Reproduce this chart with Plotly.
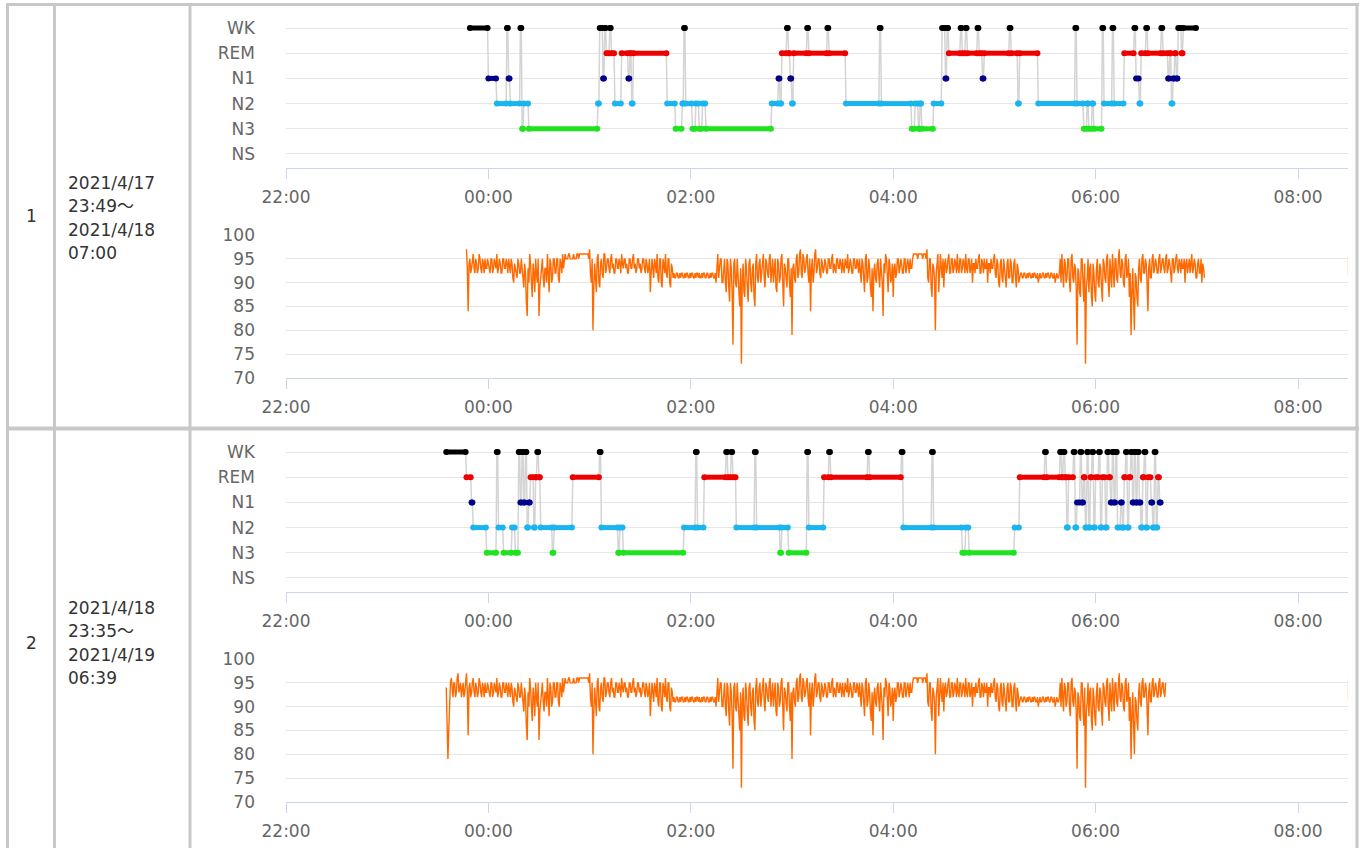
import plotly.graph_objects as go

# ---------------- data ----------------
STAGES = ["NS", "N3", "N2", "N1", "REM", "WK"]
X_TICK_VALS = [-2, 0, 2, 4, 6, 8]
X_TICK_TEXT = ["22:00", "00:00", "02:00", "04:00", "06:00", "08:00"]
SPO2_TICKS = [70, 75, 80, 85, 90, 95, 100]

ROW_LABELS = ["1", "2"]
ROW_DATES = [["2021/4/17", "23:49～", "2021/4/18", "07:00"],
             ["2021/4/18", "23:35～", "2021/4/19", "06:39"]]

# hypnogram night 1: stage change times (minutes from midnight) and stages
n1_times = [-11, 0, 5, 11, 12, 13, 19, 20, 21, 24, 65, 66, 68, 69, 70, 72, 73, 75, 79, 83,
            84, 85, 86, 106, 111, 115, 116, 117, 121, 123, 125, 127, 129, 168, 172, 173, 174, 177, 178, 179,
            180, 181, 189, 190, 201, 202, 212, 232, 233, 251, 253, 255, 256, 257, 264, 269, 271, 272, 273, 280,
            281, 283, 284, 290, 291, 293, 294, 309, 310, 314, 315, 326, 348, 349, 353, 355, 356, 358, 359, 364,
            365, 370, 371, 377, 383, 384, 386, 387, 390, 391, 399, 400, 403, 404, 405, 406, 407, 408, 409, 411,
            412]
n1_stages = ["WK", "N1", "N2", "WK", "N1", "N2", "WK", "N3", "N2", "N3", "N2", "WK", "N1", "WK", "REM", "WK", "REM", "N2", "REM", "N1",
             "REM", "N2", "REM", "N2", "N3", "N2", "WK", "N2", "N3", "N2", "N3", "N2", "N3", "N2", "N1", "N2", "REM", "WK", "REM", "N1",
             "N2", "REM", "WK", "REM", "WK", "REM", "N2", "WK", "N2", "N3", "N2", "N3", "N2", "N3", "N2", "WK", "N1", "WK", "REM", "WK",
             "REM", "WK", "REM", "WK", "REM", "N1", "REM", "WK", "REM", "N2", "REM", "N2", "WK", "N2", "N3", "N2", "N3", "N2", "N3", "WK",
             "N2", "WK", "N2", "REM", "WK", "N1", "N2", "REM", "WK", "REM", "WK", "REM", "N1", "REM", "N2", "N1", "REM", "N1", "WK", "REM",
             "WK"]
n1_end = 420

# hypnogram night 2
n2_times = [-25, -13, -10, -9, -1, 5, 6, 9, 14, 16, 18, 19, 20, 21, 22, 23, 24, 25, 27, 28,
            29, 30, 31, 38, 39, 50, 66, 67, 77, 78, 80, 116, 123, 124, 128, 141, 142, 144, 145, 147,
            158, 159, 173, 174, 178, 189, 190, 199, 202, 203, 225, 226, 245, 246, 263, 264, 281, 283, 285, 312,
            315, 330, 331, 339, 340, 341, 342, 343, 344, 347, 348, 349, 351, 352, 353, 354, 355, 356, 357, 358,
            359, 360, 362, 363, 364, 366, 367, 368, 369, 370, 371, 372, 373, 375, 376, 377, 378, 379, 380, 381,
            382, 383, 384, 385, 386, 387, 388, 389, 390, 391, 393, 394, 395, 396, 397, 398]
n2_stages = ["WK", "REM", "N1", "N2", "N3", "WK", "N2", "N3", "N2", "N3", "WK", "N1", "WK", "N1", "WK", "N2", "N1", "REM", "N2", "REM",
             "WK", "REM", "N2", "N3", "N2", "REM", "WK", "N2", "N3", "N2", "N3", "N2", "WK", "N2", "REM", "WK", "REM", "WK", "REM", "N2",
             "WK", "N2", "N3", "N2", "N3", "WK", "N2", "REM", "WK", "REM", "WK", "REM", "WK", "N2", "WK", "N2", "N3", "N2", "N3", "N2",
             "REM", "WK", "REM", "WK", "REM", "WK", "REM", "N2", "REM", "WK", "N2", "N1", "WK", "N1", "REM", "N2", "WK", "N2", "REM", "WK",
             "N2", "REM", "WK", "N2", "REM", "N2", "WK", "REM", "N1", "WK", "N1", "WK", "N2", "N1", "N2", "REM", "WK", "N2", "REM", "WK",
             "N1", "WK", "N1", "WK", "N1", "N2", "REM", "WK", "N2", "REM", "N1", "N2", "WK", "N2", "REM", "N1"]
n2_end = 399

# SpO2 night 1: readings on each full minute from 23:47 (t = -13 min) ...
spo2_n1_start = -13
spo2_n1 = [
    97, 84, 95, 93, 96, 92, 94, 93, 95, 92, 94, 95, 93,
    94, 92, 95, 93, 94, 96, 93, 94, 92, 95, 93, 94, 95, 92, 94, 90, 93, 91, 94, 92,
    93, 89, 92, 83, 90, 94, 87, 92, 95, 90, 83, 91, 95, 89, 93, 96, 88, 94, 91, 95,
    92, 95, 90, 94, 96, 95, 95, 95, 96, 95, 95, 95, 95, 96, 96, 96, 96, 96, 96, 96,
    97, 90, 80, 94, 88, 96, 89, 95, 91, 96, 93, 95, 92, 96, 94, 92, 95, 93, 94, 96,
    93, 95, 94, 92, 95, 93, 96, 94, 93, 95, 94, 93, 95, 92, 94, 93, 88, 95, 91, 94,
    96, 90, 95, 89, 94, 96, 91, 95, 89, 93, 92, 91, 92, 91, 91, 92, 91, 91, 92, 91,
    91, 92, 91, 91, 92, 92, 91, 91, 92, 91, 92, 91, 91, 92, 91, 90, 96, 93, 95, 90,
    95, 88, 94, 86, 93, 77, 95, 89, 92, 85, 73, 94, 87, 93, 86, 95, 88, 94, 85, 96,
    90, 95, 92, 96, 89, 94, 91, 96, 93, 90, 95, 88, 94, 91, 96, 85, 93, 89, 95, 87,
    79, 94, 90, 96, 92, 97, 91, 95, 93, 96, 90, 84, 95, 92, 97, 93, 95, 91, 94, 93,
    94, 92, 95, 93, 96, 94, 92, 95, 93, 94, 95, 92, 94, 96, 93, 94, 92, 95, 93, 94,
    95, 90, 94, 88, 96, 91, 93, 87, 84, 94, 90, 95, 89, 93, 83, 92, 95, 88, 94, 91,
    87, 94, 92, 95, 93, 94, 92, 95, 93, 94, 95, 93, 96, 96, 96, 96, 96, 96, 96, 96,
    97, 90, 95, 87, 93, 80, 94, 88, 96, 91, 89, 95, 93, 96, 92, 95, 93, 94, 96, 92,
    95, 93, 94, 96, 92, 95, 93, 90, 94, 95, 93, 96, 92, 94, 95, 93, 90, 94, 95, 93,
    96, 91, 94, 89, 95, 90, 93, 89, 95, 91, 94, 90, 95, 89, 93, 91, 92, 91, 92, 91,
    91, 92, 91, 91, 92, 91, 90, 92, 91, 92, 91, 91, 92, 91, 92, 91, 90, 92, 91, 95,
    96, 89, 94, 91, 95, 88, 96, 90, 93, 77, 92, 87, 95, 86, 73, 91, 88, 94, 85, 92,
    86, 95, 89, 93, 86, 94, 90, 96, 87, 92, 96, 89, 95, 90, 97, 91, 94, 89, 96, 92,
    87, 79, 93, 80, 91, 85, 95, 90, 96, 92, 94, 84, 95, 91, 96, 93, 94, 92, 96, 93,
    95, 92, 96, 93, 94, 90, 95, 93, 96, 92, 94, 95, 93, 90, 95, 94, 92, 96, 93, 94, 91, 95, 92, 90, 93,
]
# ... and on each half minute (t + 0.5)
spo2_n1_half = [
    93, 94, 92, 95, 93, 95, 92, 96, 93, 95, 92, 93, 95,
    93, 95, 92, 95, 93, 92, 95, 92, 95, 93, 95, 92, 93, 95, 91, 94, 92, 95, 92, 95,
    91, 94, 86, 93, 96, 90, 94, 88, 92, 95, 89, 94, 91, 93, 90, 92, 95, 90, 95, 92,
    95, 91, 95, 92, 93, 96, 95, 96, 95, 95, 96, 95, 96, 95, 96, 96, 96, 96, 96, 95,
    92, 95, 89, 91, 95, 90, 94, 92, 96, 92, 95, 93, 95, 93, 92, 95, 93, 95, 92, 94,
    95, 93, 92, 95, 93, 95, 93, 92, 95, 93, 92, 95, 93, 95, 92, 95, 92, 93, 95, 92,
    91, 95, 90, 95, 92, 92, 95, 90, 94, 91, 91, 92, 91, 92, 92, 91, 92, 92, 91, 92,
    92, 91, 92, 92, 91, 91, 92, 92, 91, 92, 91, 92, 92, 91, 92, 93, 91, 95, 90, 94,
    90, 95, 89, 95, 88, 94, 90, 95, 87, 93, 91, 88, 95, 89, 94, 90, 93, 87, 94, 91,
    94, 90, 95, 91, 95, 92, 95, 90, 95, 94, 89, 95, 90, 95, 90, 94, 91, 95, 90, 93,
    93, 91, 95, 91, 96, 92, 96, 92, 95, 92, 95, 93, 90, 96, 92, 95, 92, 95, 92, 95,
    92, 95, 93, 95, 92, 93, 95, 93, 95, 92, 93, 95, 93, 92, 95, 92, 95, 93, 95, 92,
    92, 95, 91, 95, 90, 95, 89, 93, 92, 91, 94, 91, 95, 90, 94, 96, 91, 95, 90, 94,
    93, 91, 95, 92, 95, 92, 95, 92, 95, 92, 93, 95, 96, 96, 95, 96, 96, 95, 96, 95,
    91, 95, 89, 94, 91, 92, 96, 91, 93, 95, 94, 92, 95, 92, 95, 92, 95, 92, 93, 95,
    92, 95, 92, 93, 95, 92, 95, 94, 92, 93, 95, 92, 95, 92, 93, 95, 94, 92, 93, 95,
    92, 95, 90, 94, 91, 95, 90, 94, 91, 95, 90, 94, 91, 94, 90, 92, 91, 92, 91, 92,
    92, 91, 92, 92, 91, 92, 91, 91, 92, 91, 92, 92, 91, 92, 91, 92, 91, 91, 92, 90,
    92, 95, 90, 95, 90, 95, 91, 94, 89, 93, 88, 95, 90, 94, 89, 95, 93, 87, 94, 88,
    93, 90, 94, 89, 95, 91, 95, 90, 95, 89, 92, 95, 91, 95, 92, 95, 90, 95, 91, 95,
    92, 88, 86, 92, 87, 93, 91, 95, 92, 95, 90, 93, 91, 95, 92, 95, 92, 95, 92, 95,
    93, 95, 92, 95, 92, 95, 92, 95, 93, 95, 92, 93, 95, 94, 92, 95, 94, 92, 95, 91, 94, 92, 95, 94, 91,
]
# SpO2 night 2: own readings from 23:35 until 23:46, then the same trace as night 1 until 06:41
spo2_n2_start = -25
spo2_n2_head = [94, 79, 93, 96, 92, 95, 93, 97, 94, 92, 95, 93]
spo2_n2_head_half = [86, 85, 95, 93, 95, 92, 96, 93, 95, 94, 92, 95]
spo2_n2_end = 401

# ---------------- styling ----------------
W, H = 1365, 848
LEVEL = {s: i for i, s in enumerate(STAGES)}
COLORS = {"WK": "#000000", "REM": "#ee0000", "N1": "#00008b", "N2": "#1ab4ee", "N3": "#1fe31f"}
GRID = "#e6e6e6"
AXIS = "#ccd6eb"
LABEL = "#666666"
FONT = "DejaVu Sans, Noto Sans CJK JP, sans-serif"


def py(p):
    return 1 - p / H


def px(p):
    return p / W


X_DOMAIN = [px(286), px(1348)]
X_RANGE = [-2, (1348 - 488) / 101.25]

fig = go.Figure()


def add_hypno(times, stages, end, xa, ya):
    nxt = times[1:] + [end]
    gx, gy = [], []
    for t, t2, s in zip(times, nxt, stages):
        gx += [t / 60, (t2 - 0.5) / 60]
        gy += [LEVEL[s], LEVEL[s]]
    fig.add_trace(go.Scatter(x=gx, y=gy, mode="lines", line=dict(color="#d4d4d4", width=1.5),
                             xaxis=xa, yaxis=ya, hoverinfo="skip"))
    for st in ["N3", "N2", "N1", "REM", "WK"]:
        xs, ys = [], []
        for t, t2, s in zip(times, nxt, stages):
            if s == st:
                xs += [t / 60, (t2 - 0.5) / 60, None]
                ys += [LEVEL[s], LEVEL[s], None]
        fig.add_trace(go.Scatter(x=xs, y=ys, mode="lines+markers",
                                 line=dict(color=COLORS[st], width=5),
                                 marker=dict(color=COLORS[st], size=6),
                                 xaxis=xa, yaxis=ya, name=st))


def add_spo2(start, full, half, last, xa, ya):
    xs, ys = [], []
    for i, (a, b) in enumerate(zip(full, half)):
        t = start + i
        if t > last:
            break
        xs += [t / 60, (t + 0.5) / 60]
        ys += [a, b]
    fig.add_trace(go.Scatter(x=xs, y=ys, mode="lines", line=dict(color="#ff6a00", width=1.4),
                             xaxis=xa, yaxis=ya, name="SpO2"))


add_hypno(n1_times, n1_stages, n1_end, "x", "y")
add_spo2(spo2_n1_start, spo2_n1, spo2_n1_half, 1e9, "x2", "y2")
add_hypno(n2_times, n2_stages, n2_end, "x3", "y3")
add_spo2(spo2_n2_start, spo2_n2_head + spo2_n1, spo2_n2_head_half + spo2_n1_half, spo2_n2_end, "x4", "y4")

xcommon = dict(range=X_RANGE, domain=X_DOMAIN, tickvals=X_TICK_VALS, ticktext=X_TICK_TEXT,
               showline=True, linecolor=AXIS, linewidth=1, ticks="outside", ticklen=10,
               tickcolor=AXIS, tickwidth=1, showgrid=False, zeroline=False, automargin=False,
               tickfont=dict(size=17, color=LABEL, family=FONT), ticklabelstandoff=4, fixedrange=True)
hy_common = dict(range=[-0.556, 5.635], tickvals=list(range(6)), ticktext=STAGES,
                 showgrid=True, gridcolor=GRID, gridwidth=1, zeroline=False, showline=False,
                 ticks="", ticklabelstandoff=30, tickfont=dict(size=17, color=LABEL, family=FONT),
                 fixedrange=True, automargin=False)
sp_common = dict(range=[70, 100], tickvals=SPO2_TICKS, showgrid=True, gridcolor=GRID, gridwidth=1,
                 zeroline=False, showline=False, ticks="", ticklabelstandoff=30, automargin=False,
                 tickfont=dict(size=17, color=LABEL, family=FONT), fixedrange=True)

fig.update_layout(
    xaxis=dict(anchor="y", **xcommon),
    yaxis=dict(anchor="x", domain=[py(168), py(12)], **hy_common),
    xaxis2=dict(anchor="y2", **xcommon),
    yaxis2=dict(anchor="x2", domain=[py(378), py(235)], **sp_common),
    xaxis3=dict(anchor="y3", **xcommon),
    yaxis3=dict(anchor="x3", domain=[py(592), py(436)], **hy_common),
    xaxis4=dict(anchor="y4", **xcommon),
    yaxis4=dict(anchor="x4", domain=[py(802), py(659)], **sp_common),
)

# table borders
BORDER = "#c8c8c8"
shapes = []
for xv in [7.5, 54.5, 190, 1357]:
    shapes.append(dict(type="line", xref="paper", yref="paper", x0=px(xv), x1=px(xv), y0=py(3), y1=py(H + 5),
                       line=dict(color=BORDER, width=3)))
shapes.append(dict(type="line", xref="paper", yref="paper", x0=px(6), x1=px(1359), y0=py(4.5), y1=py(4.5),
                   line=dict(color=BORDER, width=3)))
shapes.append(dict(type="line", xref="paper", yref="paper", x0=px(6), x1=px(1359), y0=py(428.5), y1=py(428.5),
                   line=dict(color=BORDER, width=4)))
# faint marks at the right edge of the SpO2 plots
for xr, yr in [("x2", "y2"), ("x4", "y4")]:
    shapes.append(dict(type="line", xref=xr, yref=yr, x0=X_RANGE[1], x1=X_RANGE[1], y0=91.5, y1=95.8,
                       line=dict(color="rgba(255,170,60,0.35)", width=1)))

annotations = []
row_centers = [216, 643]
date_tops = [183, 608]
for i in range(2):
    annotations.append(dict(xref="paper", yref="paper", x=px(31), y=py(row_centers[i]), text=ROW_LABELS[i],
                            showarrow=False, xanchor="center", yanchor="middle",
                            font=dict(size=17, color="#333333", family=FONT)))
    for j, line in enumerate(ROW_DATES[i]):
        annotations.append(dict(xref="paper", yref="paper", x=px(66), y=py(date_tops[i] + 23.3 * j), text=line,
                                showarrow=False, xanchor="left", yanchor="middle",
                                font=dict(size=17, color="#333333", family=FONT)))

fig.update_layout(width=W, height=H, autosize=False, margin=dict(l=0, r=0, t=0, b=0, pad=0),
                  paper_bgcolor="white", plot_bgcolor="white", showlegend=False, shapes=shapes,
                  annotations=annotations, font=dict(family=FONT))

fig.write_html("out.html", config={"displayModeBar": False},
               post_script="document.body.style.margin='0';")
